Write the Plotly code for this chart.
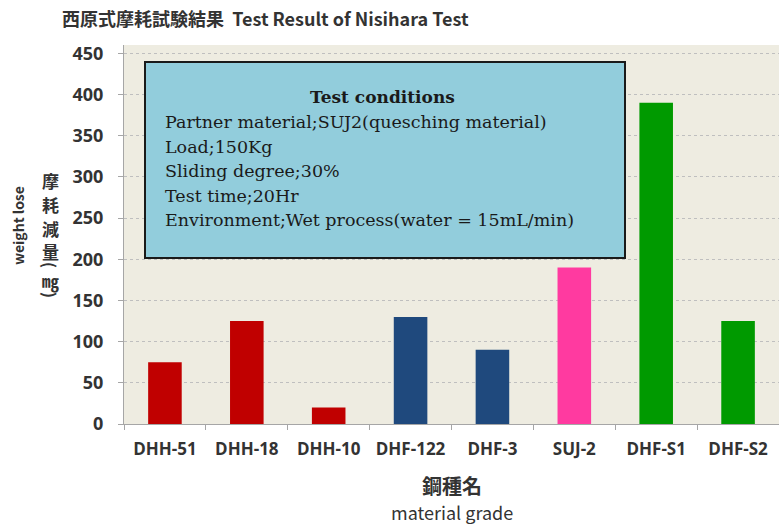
import plotly.graph_objects as go

categories = ["DHH-51", "DHH-18", "DHH-10", "DHF-122", "DHF-3", "SUJ-2", "DHF-S1", "DHF-S2"]
weight_loss = [75, 125, 20, 130, 90, 190, 390, 125]
bar_colors = ["#C00000", "#C00000", "#C00000", "#1F497D", "#1F497D", "#FF3AA0", "#009A00", "#009A00"]
y_ticks = [0, 50, 100, 150, 200, 250, 300, 350, 400, 450]

title_text = "西原式摩耗試験結果  Test Result of Nisihara Test"
y_title_cjk = ["摩", "耗", "減", "量", "(", "㎎", ")"]
box_title = "Test conditions"
box_lines = [
    "Partner material;SUJ2(quesching material)",
    "Load;150Kg",
    "Sliding degree;30%",
    "Test time;20Hr",
    "Environment;Wet process(water = 15mL/min)",
]

PL, PT, PW, PH = 124, 45, 655, 379  # plot area in pixels


def px(x):
    return (x - PL) / PW


def py(y):
    return (PT + PH - y) / PH


fig = go.Figure()
fig.add_trace(go.Bar(
    x=categories, y=weight_loss, marker_color=bar_colors,
    marker_line_width=0, width=0.41,
))

fig.update_layout(
    width=779, height=527,
    margin=dict(l=PL, r=779 - PL - PW, t=PT, b=527 - PT - PH, autoexpand=False),
    paper_bgcolor="white", plot_bgcolor="#EEECE1",
    showlegend=False,
    font=dict(family="Noto Sans CJK JP, Noto Sans, sans-serif", color="#333333"),
)
fig.update_xaxes(
    showline=True, linecolor="#A6A6A6", linewidth=1,
    ticks="outside", tickson="boundaries", ticklen=5, tickcolor="#A6A6A6",
    tickfont=dict(size=17, family="Open Sans, sans-serif", color="#333333", weight="bold"),
    tickangle=0, ticklabelstandoff=10,
    showgrid=False, automargin=False,
)
fig.update_yaxes(
    range=[0, 460], tickvals=y_ticks,
    showline=True, linecolor="#A6A6A6", linewidth=1,
    ticks="outside", ticklen=5, tickcolor="#A6A6A6",
    tickfont=dict(size=18, family="Open Sans, sans-serif", color="#333333", weight="bold"),
    ticklabelstandoff=11,
    showgrid=True, gridcolor="#BFBFBF", griddash="dot", gridwidth=1,
    zeroline=False, automargin=False,
)

# chart title
fig.add_annotation(text="<b>" + title_text + "</b>", xref="paper", yref="paper",
                   x=px(60), y=py(18), xanchor="left", yanchor="middle",
                   showarrow=False, font=dict(size=18, color="#333333"))

# axis titles
fig.add_annotation(text="<b>鋼種名</b>", xref="paper", yref="paper",
                   x=px(452), y=py(485), xanchor="center", yanchor="middle",
                   showarrow=False, font=dict(size=20, color="#333333"))
fig.add_annotation(text="material grade", xref="paper", yref="paper",
                   x=px(452), y=py(512), xanchor="center", yanchor="middle",
                   showarrow=False, font=dict(size=18, color="#333333"))
fig.add_annotation(text="<b>weight lose</b>", xref="paper", yref="paper",
                   x=px(18), y=py(226), xanchor="center", yanchor="middle",
                   textangle=-90, showarrow=False, font=dict(size=14, color="#333333"))
cjk_y = [181, 204, 228, 251, 265, 280, 295]
for ch, yy in zip(y_title_cjk, cjk_y):
    is_paren = ch in "()"
    fig.add_annotation(text="<b>" + ch + "</b>", xref="paper", yref="paper",
                       x=px(50), y=py(yy), xanchor="center", yanchor="middle",
                       textangle=90 if is_paren else 0,
                       showarrow=False, font=dict(size=16 if is_paren else 17, color="#333333"))

# test conditions box
fig.add_shape(type="rect", xref="paper", yref="paper",
              x0=px(145), x1=px(625), y0=py(258), y1=py(62),
              fillcolor="#92CDDC", line=dict(color="#1a1a1a", width=2), layer="above")
fig.add_annotation(text="<b>" + box_title + "</b>", xref="paper", yref="paper",
                   x=px(382), y=py(97), xanchor="center", yanchor="middle",
                   showarrow=False, font=dict(size=17, family="DejaVu Serif, serif", color="#1a1a1a"))
for i, line in enumerate(box_lines):
    fig.add_annotation(text=line, xref="paper", yref="paper",
                       x=px(163), y=py(122 + i * 24.5), xanchor="left", yanchor="middle",
                       showarrow=False, font=dict(size=17.5, family="DejaVu Serif, serif", color="#1a1a1a"))

fig.write_html("out.html", post_script="document.body.style.margin='0';",
               config={"displayModeBar": False})
